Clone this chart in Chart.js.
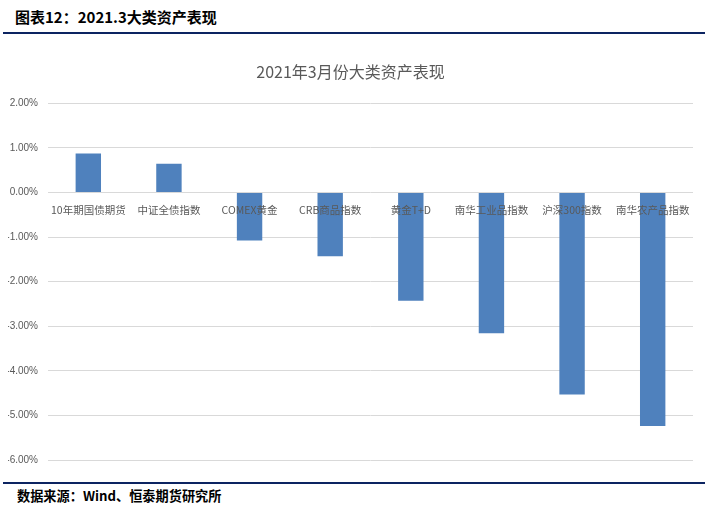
<!DOCTYPE html>
<html>
<head>
<meta charset="utf-8">
<script src="https://cdn.jsdelivr.net/npm/chart.js@4"></script>
<style>
  html, body { margin: 0; padding: 0; background: #fff; }
  body { width: 711px; height: 512px; position: relative; overflow: hidden; font-family: "Noto Sans CJK SC", sans-serif; }
  .cabecalho { position: absolute; left: 15px; top: 6px; font-size: 15px; font-weight: bold; color: #000; line-height: 22px; }
  .linha { position: absolute; left: 3px; width: 702px; height: 2px; background: #0c2461; }
  .rodape { position: absolute; left: 17px; top: 486px; font-size: 13.2px; font-weight: bold; color: #000; line-height: 20px; }
  .grafico { position: absolute; left: 0; top: 40px; width: 711px; height: 436px; }
</style>
</head>
<body>
<div class="cabecalho">图表12：2021.3大类资产表现</div>
<div class="linha" style="top:32px"></div>
<div class="grafico"><canvas id="graficoAtivos"></canvas></div>
<div class="linha" style="top:482px"></div>
<div class="rodape">数据来源：Wind、恒泰期货研究所</div>

<script>
// categorias e retornos (%)
const categorias = ['10年期国债期货', '中证全债指数', 'COMEX黄金', 'CRB商品指数', '黄金T+D', '南华工业品指数', '沪深300指数', '南华农产品指数'];
const retornos = [0.87, 0.64, -1.08, -1.43, -2.43, -3.16, -4.53, -5.24];
const eixoMin = -6;
const eixoMax = 2;

const ctx = document.getElementById('graficoAtivos');

new Chart(ctx, {
    type: 'bar',
    data: {
        labels: categorias,
        datasets: [{
            label: '2021年3月',
            data: retornos,
            backgroundColor: '#4f81bd',
            borderWidth: 0,
            categoryPercentage: 1,
            barPercentage: 0.315
        }]
    },
    options: {
        responsive: true,
        maintainAspectRatio: false,
        animation: false,
        layout: {
            padding: { top: 12, left: 8, right: 18, bottom: 3 }
        },
        plugins: {
            legend: { display: false },
            tooltip: { enabled: false },
            title: {
                display: true,
                text: '2021年3月份大类资产表现',
                color: '#595959',
                font: { family: '"Noto Sans CJK SC", sans-serif', size: 16, weight: 'normal' },
                padding: { top: 10, bottom: 22 }
            }
        },
        scales: {
            x: {
                position: { y: 0 },
                grid: { display: false },
                border: { display: false },
                ticks: {
                    z: 1, // rótulos por cima das barras, como no original
                    color: '#595959',
                    font: { family: '"Noto Sans CJK SC", sans-serif', size: 10.5 },
                    padding: 3,
                    maxRotation: 0,
                    autoSkip: false
                }
            },
            y: {
                min: eixoMin,
                max: eixoMax,
                afterFit: (scale) => { scale.width = 40; },
                grid: { color: '#d9d9d9', lineWidth: 1, drawTicks: false },
                border: { display: false },
                ticks: {
                    stepSize: 1,
                    padding: 10,
                    color: '#595959',
                    font: { family: '"Liberation Sans", sans-serif', size: 10 },
                    callback: (value) => value.toFixed(2) + '%'
                }
            }
        }
    }
});
</script>
</body>
</html>
